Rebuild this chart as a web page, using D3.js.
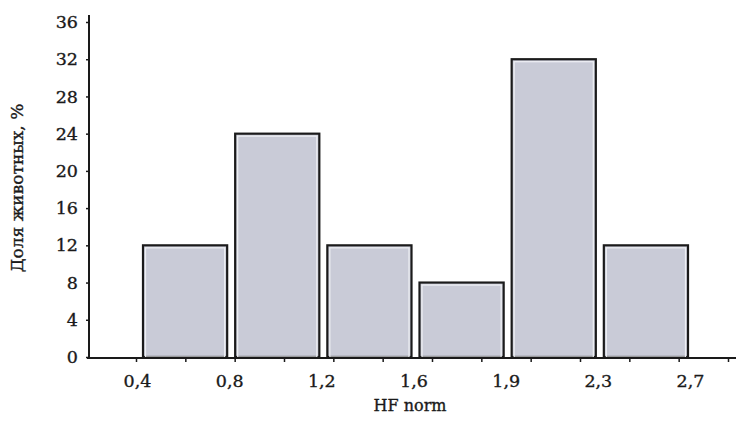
<!DOCTYPE html>
<html>
<head>
<meta charset="utf-8">
<script src="https://cdn.jsdelivr.net/npm/d3@7"></script>
<style>
  body { margin: 0; background: #ffffff; }
  svg { display: block; }
  text { font-family: "DejaVu Serif", "Liberation Serif", serif; fill: #1a1a1a; stroke: #1a1a1a; stroke-width: 0.35px; }
</style>
</head>
<body>
<script>
// ---- data ----
const binLabels = ["0,4", "0,8", "1,2", "1,6", "1,9", "2,3", "2,7"];   // bin boundaries
const shares = [12, 24, 12, 8, 32, 12];                                // % of animals per bin
const yTicks = [0, 4, 8, 12, 16, 20, 24, 28, 32, 36];
const minorTickCount = 13;
const xTitle = "HF norm";
const yTitle = "Доля животных, %";

// ---- layout ----
const W = 736, H = 421;
const svg = d3.select("body").append("svg").attr("width", W).attr("height", H);

const y = d3.scaleLinear().domain([0, 36]).range([357, 22]);
const x = d3.scaleLinear().domain([0, 6]).range([139, 692]);
const xt = d3.scaleLinear().domain([0, minorTickCount - 1]).range([136, 728]);

const axisLeftX = 89, axisRightX = 736;

// bars
svg.append("g").selectAll("g.bar").data(shares).join("g").attr("class", "bar")
  .each(function(d, i) {
    const g = d3.select(this);
    const x0 = x(i) + 4, x1 = x(i + 1) - 4;
    g.append("rect")
      .attr("x", x0).attr("y", y(d))
      .attr("width", x1 - x0).attr("height", y(0) - y(d))
      .attr("fill", "#c9cbd7").attr("stroke", "#1b1b1b").attr("stroke-width", 2.2);
    g.append("rect")
      .attr("x", x0 + 2.5).attr("y", y(d) + 2.5)
      .attr("width", x1 - x0 - 5).attr("height", y(0) - y(d) - 2.5)
      .attr("fill", "none").attr("stroke", "#eef0f4").attr("stroke-width", 1.2);
  });

// y axis
const gy = svg.append("g").attr("transform", `translate(${axisLeftX},0)`)
  .call(d3.axisLeft(y).tickValues(yTicks).tickSize(3).tickPadding(8).tickFormat(d3.format("d")));
gy.select(".domain").remove();
gy.selectAll(".tick line").attr("stroke", "#1a1a1a").attr("stroke-width", 1.5);
gy.selectAll(".tick text").style("font-size", "17.5px");
svg.append("line").attr("x1", axisLeftX).attr("x2", axisLeftX)
  .attr("y1", 15).attr("y2", y(0) + 1)
  .attr("stroke", "#1a1a1a").attr("stroke-width", 2);

// x axis line
svg.append("line").attr("x1", axisLeftX - 2).attr("x2", axisRightX)
  .attr("y1", y(0) + 1).attr("y2", y(0) + 1)
  .attr("stroke", "#1a1a1a").attr("stroke-width", 2);

// x tick marks
const gxt = svg.append("g").attr("transform", `translate(0,${y(0) + 1})`)
  .call(d3.axisBottom(xt).tickValues(d3.range(minorTickCount)).tickSize(4).tickFormat(""));
gxt.select(".domain").remove();
gxt.selectAll(".tick line").attr("stroke", "#1a1a1a").attr("stroke-width", 1.5);

// x labels at bin boundaries
const gx = svg.append("g").attr("transform", `translate(0,${y(0) + 1})`)
  .call(d3.axisBottom(x).tickValues(d3.range(binLabels.length)).tickSize(0).tickPadding(17)
    .tickFormat(i => binLabels[i]));
gx.select(".domain").remove();
gx.selectAll(".tick text").style("font-size", "17.5px").attr("dx", -2);

// titles
svg.append("text").attr("x", 410).attr("y", 411).attr("text-anchor", "middle")
  .style("font-size", "16px").text(xTitle);
svg.append("text").attr("transform", "translate(23,188) rotate(-90)")
  .attr("text-anchor", "middle").style("font-size", "17px").text(yTitle);
</script>
</body>
</html>
